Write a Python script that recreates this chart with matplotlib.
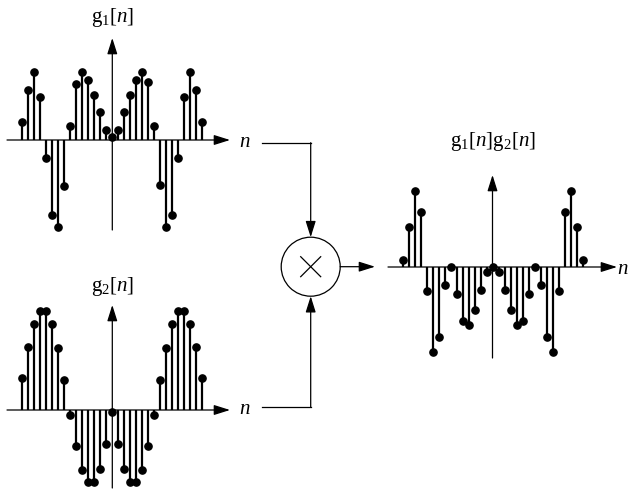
import matplotlib
matplotlib.use('Agg')
import matplotlib.pyplot as plt
from matplotlib.patches import Circle

plt.rcParams['mathtext.fontset'] = 'custom'
plt.rcParams['mathtext.rm'] = 'Liberation Serif'
plt.rcParams['mathtext.it'] = 'Liberation Serif:italic'
plt.rcParams['font.family'] = ['Liberation Serif', 'DejaVu Serif']

W, H = 629, 498

# ---- data ----
n = list(range(-15, 16))
g1 = [0.26, 0.74, 1.00, 0.64, -0.26, -1.11, -1.28, -0.68, 0.20, 0.83, 1.00, 0.89, 0.67, 0.42, 0.15, 0.04,
      0.15, 0.42, 0.67, 0.89, 1.00, 0.85, 0.20, -0.67, -1.28, -1.11, -0.26, 0.64, 1.00, 0.74, 0.26]
g2 = [0.32, 0.63, 0.87, 1.00, 1.00, 0.87, 0.62, 0.30, -0.05, -0.36, -0.60, -0.73, -0.73, -0.59, -0.34, -0.02,
      -0.34, -0.59, -0.73, -0.73, -0.60, -0.36, -0.05, 0.30, 0.62, 0.87, 1.00, 1.00, 0.87, 0.63, 0.32]
prod = [0.09, 0.53, 1.00, 0.72, -0.32, -1.12, -0.92, -0.24, 0.00, -0.36, -0.71, -0.76, -0.57, -0.30, -0.07, 0.00,
        -0.07, -0.30, -0.57, -0.76, -0.71, -0.36, 0.00, -0.24, -0.92, -1.12, -0.32, 0.72, 1.00, 0.53, 0.09]

labels = [r'$\mathrm{g}_1[n]$', r'$\mathrm{g}_2[n]$', r'$\mathrm{g}_1[n]\mathrm{g}_2[n]$']

fig = plt.figure(figsize=(W / 100, H / 100), dpi=100)

# overlay in pixel coordinates for diagram elements
ov = fig.add_axes([0, 0, 1, 1], zorder=0)
ov.set_xlim(0, W)
ov.set_ylim(H, 0)
ov.axis('off')

STEP = 6.0


def arrow(x0, y0, x1, y1):
    ov.annotate('', xy=(x1, y1), xytext=(x0, y0),
                arrowprops=dict(arrowstyle='-|>,head_length=0.7,head_width=0.22',
                                mutation_scale=14, color='k', lw=0.9,
                                shrinkA=0, shrinkB=0))


def panel(vals, cx, base, scale, x0, x1, y0, y1):
    ax = fig.add_axes([x0 / W, 1 - y1 / H, (x1 - x0) / W, (y1 - y0) / H], zorder=1)
    ax.set_xlim((x0 - cx) / STEP, (x1 - cx) / STEP)
    ax.set_ylim((base - y1) / scale, (base - y0) / scale)
    ax.axis('off')
    ml, sl, bl = ax.stem(n, vals, linefmt='k-', markerfmt='ko', basefmt=' ')
    sl.set_linewidth(1.6)
    ml.set_markersize(5.2)
    ml.set_clip_on(False)
    sl.set_clip_on(False)
    return ax


# panel geometry (pixels): centre x, baseline y, px per unit
P1 = dict(cx=112.3, base=140.0, scale=67.7)
P2 = dict(cx=112.3, base=410.0, scale=99.3)
P3 = dict(cx=492.5, base=267.0, scale=76.0)

panel(g1, P1['cx'], P1['base'], P1['scale'], 0, 250, 30, 245)
panel(g2, P2['cx'], P2['base'], P2['scale'], 0, 250, 280, 498)
panel(prod, P3['cx'], P3['base'], P3['scale'], 380, 629, 150, 370)

# axes with arrows
for P, xl, xr, yb, yt in [(P1, 7, 230, 230, 38), (P2, 7, 230, 488, 305), (P3, 388, 617, 358, 175)]:
    arrow(xl, P['base'], xr, P['base'])
    arrow(P['cx'], yb, P['cx'], yt)

fs = 15
ov.text(P1['cx'], 17, labels[0], ha='center', va='center', fontsize=fs)
ov.text(P2['cx'], 286, labels[1], ha='center', va='center', fontsize=fs)
ov.text(P3['cx'], 141, labels[2], ha='center', va='center', fontsize=fs)
ov.text(245, 142, r'$n$', ha='center', va='center', fontsize=fs)
ov.text(245, 409, r'$n$', ha='center', va='center', fontsize=fs)
ov.text(623, 269, r'$n$', ha='center', va='center', fontsize=fs)

# block diagram
cxm, cym, r = 310.7, 266.7, 29.5
ov.add_patch(Circle((cxm, cym), r, fill=False, ec='k', lw=0.9))
d = 10
ov.plot([cxm - d, cxm + d], [cym - d, cym + d], color='k', lw=0.9)
ov.plot([cxm - d, cxm + d], [cym + d, cym - d], color='k', lw=0.9)
ov.plot([262, cxm], [142.7, 142.7], color='k', lw=0.9)
arrow(cxm, 142.7, cxm, cym - r)
ov.plot([262, cxm], [407, 407], color='k', lw=0.9)
arrow(cxm, 407, cxm, cym + r)
arrow(cxm + r, cym, 375, cym)

fig.savefig('out.png', dpi=100)
